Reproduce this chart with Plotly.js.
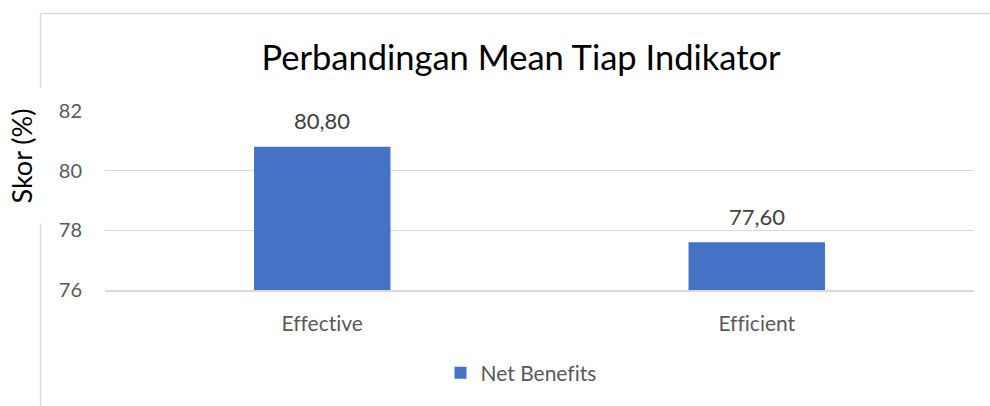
<!DOCTYPE html>
<html><head><meta charset="utf-8">
<script src="https://cdn.plot.ly/plotly-3.0.1.min.js"></script>
<style>html,body{margin:0;padding:0;background:#fff;} svg text{font-variant-ligatures:none;font-feature-settings:"liga" 0;}</style>
</head><body>
<div id="chart" style="width:990px;height:406px;"></div>
<script>
const categories = ["Effective", "Efficient"];
const seriesName = "Net Benefits";
const values = [80.8, 77.6];
const tickVals = [76, 78, 80, 82];
const labels = values.map(v => v.toFixed(2).replace('.', ','));

const FONT = "Lato, 'Open Sans', sans-serif";
const GRAY = "#595959";
const GRID = "#D9D9D9";

const trace = {
  type: "bar",
  x: categories,
  y: values,
  name: seriesName,
  marker: {color: "#4472C4"},
  width: 0.314,
  showlegend: true,
  hoverinfo: "none"
};

const annotations = categories.map((c, i) => ({
  x: c, y: values[i], xref: "x", yref: "y",
  text: labels[i], showarrow: false, yshift: 26,
  font: {family: FONT, size: 22, color: "#404040"}
}));
annotations.push({
  xref: "paper", yref: "paper", x: (21 - 105) / 869, y: (292 - 157) / 181,
  text: "Skor (%)", textangle: -90, showarrow: false,
  xanchor: "center", yanchor: "middle",
  font: {family: FONT, size: 27, color: "#000000"}
});

const px = v => (v - 105) / 869;
const py = v => (292 - v) / 181;
const shapes = [
  {type: "line", xref: "paper", yref: "paper", x0: px(40.5), x1: px(995), y0: py(12.5), y1: py(12.5), line: {color: GRID, width: 1.5}},
  {type: "line", xref: "paper", yref: "paper", x0: px(40.5), x1: px(40.5), y0: py(12.5), y1: py(88), line: {color: GRID, width: 1.5}},
  {type: "line", xref: "paper", yref: "paper", x0: px(40.5), x1: px(40.5), y0: py(225), y1: py(410), line: {color: GRID, width: 1.5}}
];

const layout = {
  width: 990, height: 406,
  margin: {l: 105, r: 16, t: 111, b: 114},
  paper_bgcolor: "#fff", plot_bgcolor: "#fff",
  font: {family: FONT, color: GRAY},
  title: {
    text: "Perbandingan Mean Tiap Indikator",
    font: {family: FONT, size: 34.5, color: "#000000"},
    x: 521 / 990, xref: "container", xanchor: "center",
    y: 1 - 58 / 406, yref: "container", yanchor: "middle"
  },
  xaxis: {
    type: "category",
    showgrid: false,
    showline: true, linecolor: GRID, linewidth: 1.5,
    ticks: "", ticklabelstandoff: 14,
    tickfont: {family: FONT, size: 21, color: GRAY},
    fixedrange: true
  },
  yaxis: {
    range: [76, 82],
    tickvals: tickVals,
    ticktext: tickVals.map(String),
    showgrid: true, gridcolor: GRID, gridwidth: 1.5,
    zeroline: false, showline: false,
    ticks: "", ticklabelstandoff: 22,
    tickfont: {family: FONT, size: 20, color: GRAY},
    fixedrange: true
  },
  showlegend: true,
  legend: {
    orientation: "h", x: px(521), xanchor: "center",
    y: py(376), yanchor: "middle",
    font: {family: FONT, size: 21, color: GRAY},
    itemwidth: 30
  },
  annotations: annotations,
  shapes: shapes
};

Plotly.newPlot("chart", [trace], layout, {displayModeBar: false, staticPlot: true});
</script>
</body></html>
